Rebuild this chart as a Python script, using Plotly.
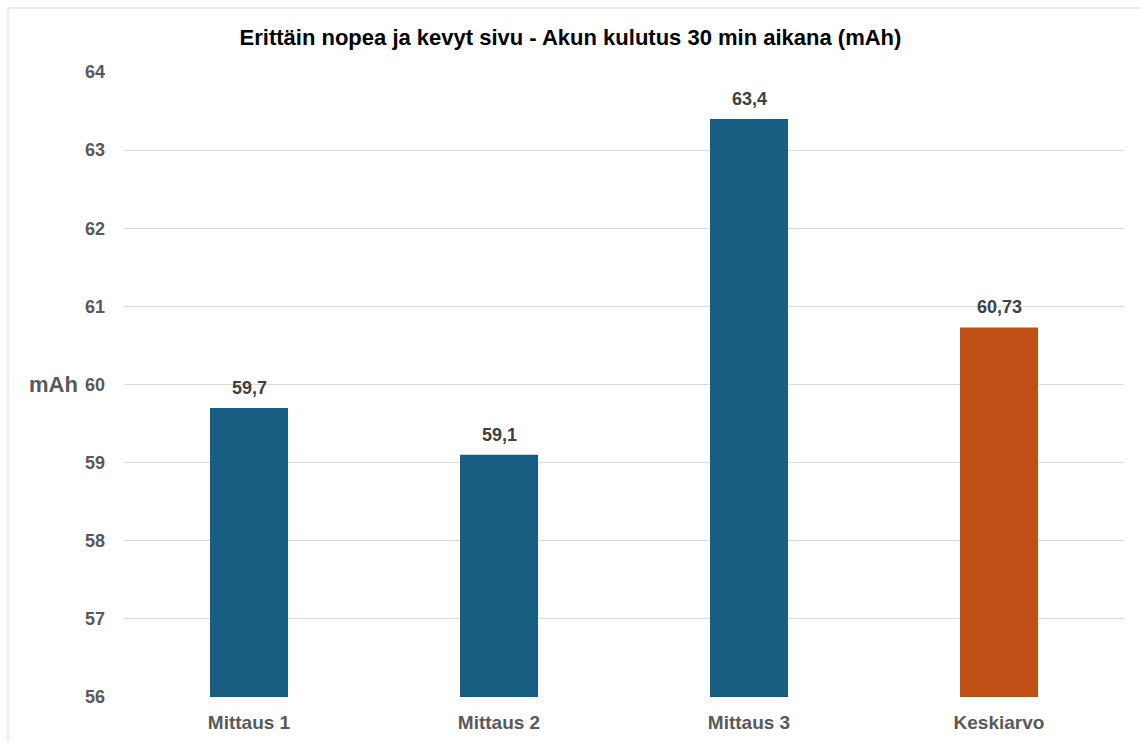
import plotly.graph_objects as go

categories = ["Mittaus 1", "Mittaus 2", "Mittaus 3", "Keskiarvo"]
values = [59.7, 59.1, 63.4, 60.73]
bar_colors = ["#175E82", "#175E82", "#175E82", "#C04F15"]
y_ticks = [56, 57, 58, 59, 60, 61, 62, 63, 64]
title_text = "Erittäin nopea ja kevyt sivu - Akun kulutus 30 min aikana (mAh)"
y_label = "mAh"

labels = [f"{v:g}".replace(".", ",") for v in values]
FONT = "Liberation Sans, Arial"

fig = go.Figure(go.Bar(
    x=categories, y=values,
    marker=dict(color=bar_colors, line=dict(width=0)),
    width=0.312,
    hoverinfo="skip",
))

annotations = [dict(text=y_label, xref="paper", yref="y", x=-0.044, y=60, xanchor="right",
                    yanchor="middle", showarrow=False,
                    font=dict(family=FONT, size=22, color="#595959", weight="bold"))]
for c, v, t in zip(categories, values, labels):
    annotations.append(dict(text=t, x=c, y=v, xref="x", yref="y", yshift=20, showarrow=False,
                            xanchor="center", yanchor="middle",
                            font=dict(family=FONT, size=18, color="#404040", weight="bold")))

fig.update_layout(
    width=1141, height=742,
    margin=dict(l=124, r=17, t=72, b=45),
    paper_bgcolor="white", plot_bgcolor="white",
    showlegend=False,
    title=dict(text=title_text, x=0.5, xanchor="center", y=1 - 37 / 742, yanchor="middle",
               font=dict(family=FONT, size=22, color="#000000", weight="bold")),
    xaxis=dict(showgrid=False, showline=False, ticks="", ticklabelstandoff=12, automargin=False,
               tickfont=dict(family=FONT, size=19, color="#595959", weight="bold")),
    yaxis=dict(range=[56, 64], tickvals=y_ticks, showgrid=True, gridcolor="#D9D9D9", gridwidth=1,
               zeroline=False, showline=False, ticks="", ticklabelstandoff=18, automargin=False,
               tickfont=dict(family=FONT, size=18, color="#595959", weight="bold")),
    bargap=0.688,
    annotations=annotations,
    shapes=[dict(type="rect", xref="paper", yref="paper", x0=-0.116, x1=1.03, y0=-0.08, y1=1.1024,
                 line=dict(color="#D9D9D9", width=1), fillcolor="rgba(0,0,0,0)", layer="below")],
)

fig.write_html("out.html")
